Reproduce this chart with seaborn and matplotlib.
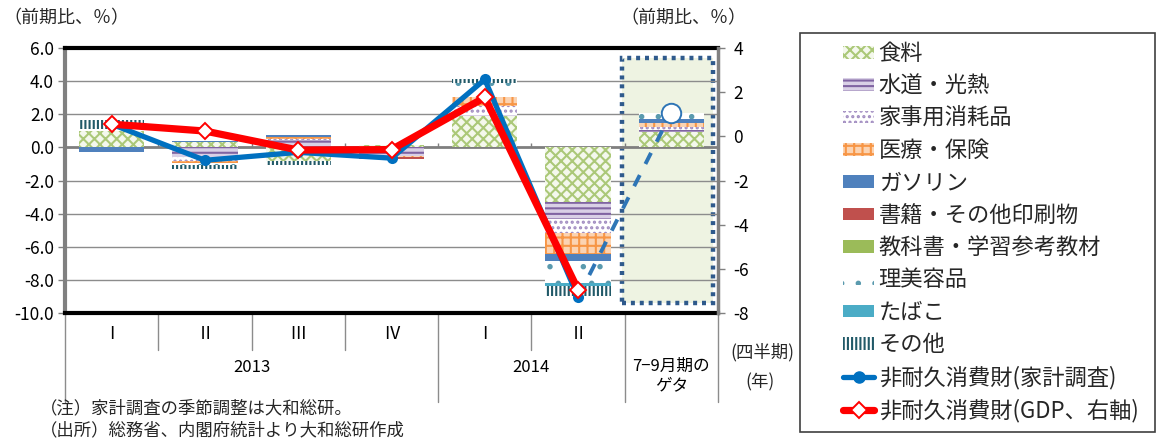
import matplotlib
matplotlib.use("Agg")
import matplotlib.pyplot as plt
import matplotlib.patches as mpatches
import matplotlib.lines as mlines
import matplotlib.transforms as mtransforms
import numpy as np
import seaborn as sns

# ---- data -------------------------------------------------------------
quarter_labels = ["Ⅰ", "Ⅱ", "Ⅲ", "Ⅳ", "Ⅰ", "Ⅱ"]
year_labels = ["2013", "2014"]
geta_label = "7−9月期の\nゲタ"

component_names = ["食料", "水道・光熱", "家事用消耗品", "医療・保険", "ガソリン",
                   "書籍・その他印刷物", "教科書・学習参考教材", "理美容品", "たばこ", "その他"]

# contributions (percentage points), 2013Q1..2014Q2 and the carry-over for Jul-Sep
food      = [1.00, 0.30, -0.80, 0.15, 1.90, -3.30, 0.95]
utilities = [0.00, -0.60, 0.45, -0.50, 0.06, -1.00, 0.10]
household = [0.05, -0.20, 0.05, -0.05, 0.55, -0.87, 0.20]
medical   = [0.00, -0.15, 0.10, -0.05, 0.55, -1.27, 0.25]
gasoline  = [-0.25, 0.10, 0.15, 0.00, 0.00, -0.45, 0.20]
books     = [0.00, 0.00, 0.00, -0.10, 0.00, 0.00, 0.00]
textbooks = [0.00, 0.00, 0.00, 0.00, 0.00, 0.00, 0.00]
beauty    = [0.05, -0.10, -0.05, 0.05, 0.85, -1.30, 0.35]
tobacco   = [0.00, 0.00, 0.00, 0.00, 0.00, -0.20, 0.05]
others    = [0.55, -0.25, -0.20, 0.00, 0.20, -0.60, 0.00]

survey_total = [1.40, -0.78, -0.30, -0.65, 4.10, -9.05]   # left axis
survey_geta = 2.10
gdp_total = [0.55, 0.24, -0.62, -0.60, 1.76, -6.95]        # right axis

components = [food, utilities, household, medical, gasoline,
              books, textbooks, beauty, tobacco, others]

# ---- styles -------------------------------------------------------------
# (face colour, hatch colour, hatch)
styles = [
    ("#F4F8EC", "#ABC878", "xxx"),
    ("#D9D0E6", "#8064A2", "---"),
    ("white",   "#A08BC0", "..."),
    ("#FBD3B2", "#F79646", "++"),
    ("#4F81BD", "#4F81BD", None),
    ("#C0504D", "#C0504D", None),
    ("#9BBB59", "#9BBB59", None),
    ("white",   "#5A9AAE", "."),
    ("#4BACC6", "#4BACC6", None),
    ("white",   "#215968", "||||"),
]

sns.set_theme(style="white")
plt.rcParams["font.family"] = ["Noto Sans CJK JP", "DejaVu Sans"]
plt.rcParams["axes.unicode_minus"] = False
plt.rcParams["hatch.linewidth"] = 1.5

W, H = 1157, 438
fig = plt.figure(figsize=(W / 100, H / 100), dpi=100)
fig.patch.set_facecolor("white")

x0, x1, y0, y1 = 65, 718, 48, 313
ax = fig.add_axes([x0 / W, 1 - y1 / H, (x1 - x0) / W, (y1 - y0) / H])
ax.set_facecolor("white")

n = len(food)
pos = np.arange(n)
ax.set_xlim(-0.5, n - 0.5)
ax.set_ylim(-10, 6)

# carry-over highlight frame behind the last column
geta_x = pos[-1]
frame = mpatches.Rectangle((geta_x - 0.53, -9.4), 0.98, 14.8,
                           facecolor="#EEF3E2", edgecolor="#2F5A8C",
                           linewidth=3.2, linestyle=(0, (0.9, 1.1)), zorder=0.6)
ax.add_patch(frame)

# gridlines
for yv in range(-8, 6, 2):
    if yv == 0:
        continue
    ax.axhline(yv, color="#8C8C8C", lw=1.0, zorder=0.8)

# stacked contributions (positive upward, negative downward)
pos_base = np.zeros(n)
neg_base = np.zeros(n)
for vals, (fc, hc, hatch) in zip(components, styles):
    vals = np.asarray(vals, dtype=float)
    bottoms = np.where(vals >= 0, pos_base, neg_base)
    ax.bar(pos, vals, width=0.7, bottom=bottoms, facecolor=fc,
           edgecolor=hc, linewidth=0, hatch=hatch, zorder=2)
    pos_base = pos_base + np.where(vals >= 0, vals, 0)
    neg_base = neg_base + np.where(vals < 0, vals, 0)

# zero line and little category ticks on it
ax.axhline(0, color="#7F7F7F", lw=2.0, zorder=1.5)
ax.vlines(np.arange(n - 1) + 0.5, 0, 0.28, color="#7F7F7F", lw=1.0, zorder=1.5)

# household survey line (left axis)
sns.lineplot(x=pos[:-1], y=survey_total, ax=ax, color="#0070C0", lw=3.8,
             marker="o", markersize=8, markeredgewidth=0, zorder=4)
ax.plot([pos[-2], pos[-1]], [survey_total[-1], survey_geta], color="#2E75B6",
        lw=2.8, linestyle=(0, (3.2, 3.2)), zorder=4)
ax.plot([pos[-1]], [survey_geta], marker="o", markersize=14, markerfacecolor="white",
        markeredgecolor="#2E75B6", markeredgewidth=1.4, linestyle="none", zorder=5)
ax.set_xlabel("")
ax.set_ylabel("")

# spines / ticks
ax.set_xticks([])
ax.set_yticks(range(-10, 7, 2))
ax.set_yticklabels([f"{v:.1f}" for v in range(-10, 7, 2)])
ax.tick_params(axis="y", which="major", left=True, direction="out", length=5,
               width=1, color="#808080", labelsize=12.5, pad=3, labelcolor="black")
ax.spines["left"].set_color("#808080")
ax.spines["left"].set_linewidth(3)
ax.spines["bottom"].set_color("black")
ax.spines["bottom"].set_linewidth(3)
ax.spines["top"].set_color("black")
ax.spines["top"].set_linewidth(3)
ax.spines["right"].set_visible(False)
for s in ax.spines.values():
    s.set_zorder(6)

# GDP line (right axis)
ax2 = ax.twinx()
ax2.set_ylim(-8, 4)
sns.lineplot(x=pos[:-1], y=gdp_total, ax=ax2, color="#FF0000", lw=5.2,
             marker="D", markersize=8.5, markerfacecolor="white",
             markeredgecolor="#FF0000", markeredgewidth=1.4, zorder=5)
ax2.set_xlim(-0.5, n - 0.5)
ax2.set_xlabel("")
ax2.set_ylabel("")
ax2.set_yticks(range(-8, 5, 2))
ax2.set_yticklabels([str(v) for v in range(-8, 5, 2)])
ax2.tick_params(axis="y", right=True, direction="out", length=5, width=1,
                color="#808080", labelsize=12.5, pad=6, labelcolor="black")
for side in ["left", "top", "bottom"]:
    ax2.spines[side].set_visible(False)
ax2.spines["right"].set_color("#808080")
ax2.spines["right"].set_linewidth(2.5)

# ---- multi-level category axis ------------------------------------------
trans = mtransforms.blended_transform_factory(ax.transData, ax.transAxes)
ph = y1 - y0
short_end = -(350 - y1) / ph
long_end = -(402 - y1) / ph
for b in np.arange(-0.5, n, 1.0):
    long_line = b in (-0.5, 3.5, 5.5, 6.5)
    ax.plot([b, b], [0, long_end if long_line else short_end], transform=trans,
            color="#8C8C8C", lw=1.0, clip_on=False, zorder=1)

for i, q in enumerate(quarter_labels):
    ax.text(pos[i], -(334 - y1) / ph, q, transform=trans, ha="center",
            va="center", fontsize=12.5, color="black")
ax.text(1.5, -(367 - y1) / ph, year_labels[0], transform=trans, ha="center",
        va="center", fontsize=12, color="black")
ax.text(4.5, -(367 - y1) / ph, year_labels[1], transform=trans, ha="center",
        va="center", fontsize=12, color="black")
ax.text(pos[-1], -(376 - y1) / ph, geta_label, transform=trans, ha="center",
        va="center", fontsize=12, color="black", linespacing=1.25)

fig.text(762 / W, 1 - 352 / H, "(四半期)", ha="center", va="center", fontsize=12.5)
fig.text(760 / W, 1 - 382 / H, "(年)", ha="center", va="center", fontsize=12.5)

# axis titles
fig.text(3 / W, 1 - 18 / H, "（前期比、％）", ha="left", va="center", fontsize=13)
fig.text(620 / W, 1 - 18 / H, "（前期比、％）", ha="left", va="center", fontsize=13)

# notes
fig.text(40 / W, 1 - 408 / H, "（注）家計調査の季節調整は大和総研。", ha="left",
         va="center", fontsize=12.5)
fig.text(40 / W, 1 - 430 / H, "（出所）総務省、内閣府統計より大和総研作成", ha="left",
         va="center", fontsize=12.5)

# ---- legend ---------------------------------------------------------------
handles = []
for (fc, hc, hatch), name in zip(styles, component_names):
    handles.append(mpatches.Patch(facecolor=fc, edgecolor=hc, hatch=hatch,
                                  linewidth=0, label=name))
handles.append(mlines.Line2D([], [], color="#0070C0", lw=3.8, marker="o",
                             markersize=8, label="非耐久消費財(家計調査)"))
handles.append(mlines.Line2D([], [], color="#FF0000", lw=5.2, marker="D",
                             markersize=8.5, markerfacecolor="white",
                             markeredgecolor="#FF0000", markeredgewidth=1.4,
                             label="非耐久消費財(GDP、右軸)"))

box = mpatches.Rectangle((800 / W, 1 - 432 / H), 355 / W, 399 / H,
                         transform=fig.transFigure, facecolor="white",
                         edgecolor="#404040", linewidth=1.2)
fig.patches.append(box)
fig.legend(handles=handles, loc="upper left",
           bbox_to_anchor=(832 / W, 1 - 31 / H), frameon=False,
           fontsize=16, handlelength=1.4, handleheight=0.5,
           handletextpad=0.2, labelspacing=0.42, borderpad=0.0)

fig.savefig("out.png", dpi=100, facecolor="white")
